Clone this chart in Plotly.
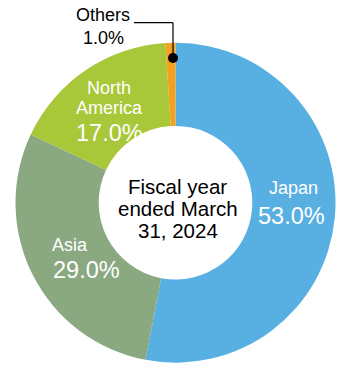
import plotly.graph_objects as go

# ---- data ----
regions = ["Japan", "Asia", "North America", "Others"]
shares = [53.0, 29.0, 17.0, 1.0]
colors = ["#58B0E2", "#8AA980", "#A8C739", "#F3A11E"]
center_lines = ["Fiscal year", "ended March", "31, 2024"]

W, H = 339, 365
FONT = "Liberation Sans, Arial, sans-serif"

def px(x):
    return x / W

def py(y):
    return 1 - y / H

# donut geometry (pixels)
cx, cy, R = 175.5, 202.7, 160

fig = go.Figure(go.Pie(
    labels=regions,
    values=shares,
    marker=dict(colors=colors, line=dict(width=0)),
    hole=0.48,
    sort=False,
    direction="clockwise",
    rotation=0,
    textinfo="none",
    hoverinfo="label+percent",
    showlegend=False,
    domain=dict(x=[px(cx - R), px(cx + R)], y=[py(cy + R), py(cy - R)]),
))

ann = []
def add(text, x, y, size, color="white"):
    ann.append(dict(text=text, x=px(x), y=py(y), xref="paper", yref="paper",
                    xanchor="center", yanchor="middle", showarrow=False,
                    font=dict(family=FONT, size=size, color=color)))

pct = [f"{v:.1f}%" for v in shares]
# Japan
add(regions[0], 293, 188, 18)
add(pct[0], 291, 216, 23.5)
# Asia
add(regions[1], 70, 245, 18)
add(pct[1], 86, 270, 23.5)
# North America
na = regions[2].split(" ")
add(na[0], 109, 88, 18)
add(na[1], 109, 108.5, 18)
add(pct[2], 109, 133, 23.5)
# Others (outside)
add(regions[3], 103.5, 15, 18, "black")
add(pct[3], 103, 38, 18, "black")
# center text
for t, yy in zip(center_lines, [186, 208, 231]):
    add(t, 177.5, yy, 20.5, "black")

shapes = [
    dict(type="line", xref="paper", yref="paper", x0=px(134), y0=py(22.7), x1=px(173), y1=py(22.7),
         line=dict(color="black", width=1.2)),
    dict(type="line", xref="paper", yref="paper", x0=px(173), y0=py(22.7), x1=px(173), y1=py(58),
         line=dict(color="black", width=1.2)),
    dict(type="circle", xref="paper", yref="paper", x0=px(168), y0=py(53), x1=px(178), y1=py(63),
         fillcolor="black", line=dict(color="black", width=0)),
]

fig.update_layout(
    width=W, height=H,
    margin=dict(l=0, r=0, t=0, b=0),
    paper_bgcolor="white", plot_bgcolor="white",
    annotations=ann, shapes=shapes,
)

fig.write_html("out.html")
